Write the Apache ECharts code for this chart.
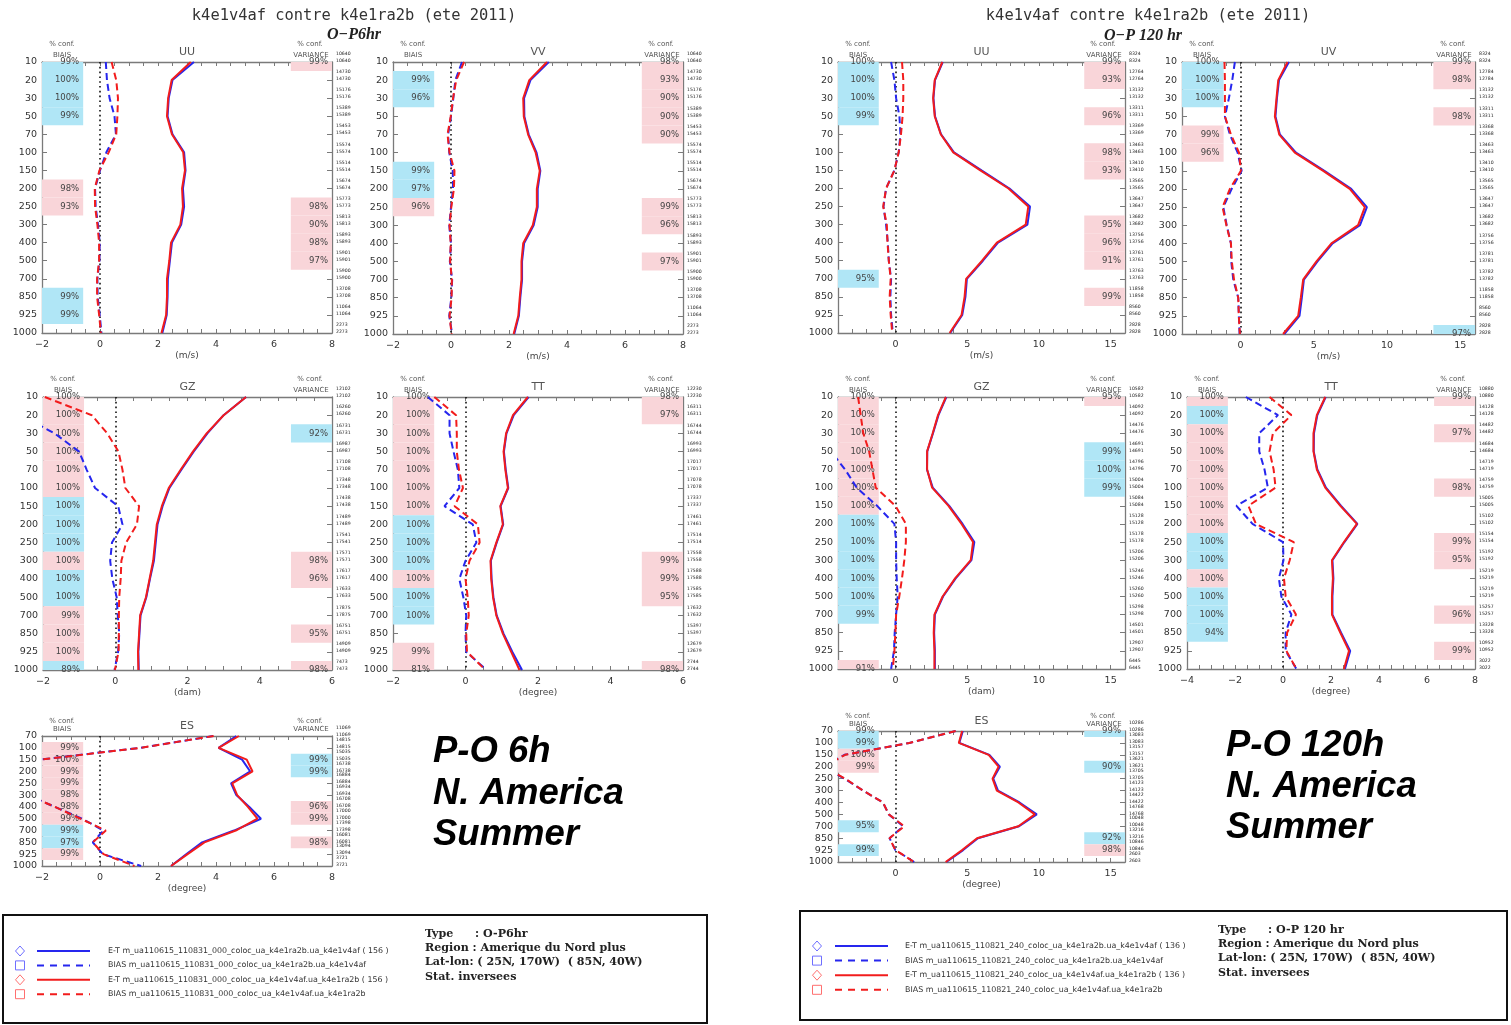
<!DOCTYPE html>
<html><head><meta charset="utf-8">
<script src="https://cdn.jsdelivr.net/npm/echarts@6/dist/echarts.min.js"></script>
<style>html,body{margin:0;padding:0;background:#fff}#c{width:1511px;height:1025px}</style>
</head><body><div id="c"></div>
<script>
// ---------- pressure levels ----------
const LEVELS = [10,20,30,50,70,100,150,200,250,300,400,500,700,850,925,1000];
const LEVELS_ES = [70,100,150,200,250,300,400,500,700,850,925,1000];

// ---------- P-O 6h ----------
const uu6_etB  = [3.24,2.50,2.37,2.33,2.50,2.90,2.95,2.86,2.90,2.80,2.48,2.41,2.34,2.33,2.30,2.15];
const uu6_etR  = [3.13,2.47,2.35,2.31,2.48,2.87,2.93,2.83,2.86,2.77,2.45,2.39,2.31,2.31,2.28,2.12];
const uu6_biasB= [0.20,0.24,0.33,0.50,0.55,0.22,0.00,-0.17,-0.15,-0.07,-0.01,-0.02,-0.09,-0.08,-0.01,0.05];
const uu6_biasR= [0.40,0.56,0.62,0.60,0.56,0.30,-0.02,-0.18,-0.17,-0.09,-0.03,-0.03,-0.10,-0.10,-0.03,0.03];
const uu6_confBias = ['b99','b100','b100','b99','','','','p98','p93','','','','','b99','b99',''];
const uu6_confVar  = ['p99','','','','','','','','p98','p90','p98','p97','','','',''];
const uu6_n = [10640,14730,15176,15389,15453,15574,15514,15674,15773,15813,15893,15901,15900,13708,11064,2273];

const vv6_etB  = [3.37,2.74,2.52,2.53,2.68,2.95,3.08,2.99,2.99,2.85,2.52,2.45,2.45,2.39,2.34,2.18];
const vv6_etR  = [3.31,2.70,2.49,2.51,2.66,2.92,3.06,2.96,2.96,2.82,2.49,2.43,2.43,2.37,2.32,2.16];
const vv6_biasB= [0.38,0.15,0.08,0.00,-0.10,-0.06,0.06,0.07,0.00,-0.06,0.00,-0.04,0.04,0.01,-0.06,0.04];
const vv6_biasR= [0.45,0.18,0.07,-0.01,-0.12,-0.05,0.12,0.10,0.01,-0.05,-0.01,-0.03,0.03,0.02,-0.05,0.02];
const vv6_confBias = ['','b99','b96','','','','b99','b97','p96','','','','','','',''];
const vv6_confVar  = ['p98','p93','p90','p90','p90','','','','p99','p96','','p97','','','',''];
const vv6_n = [10640,14730,15176,15389,15453,15574,15514,15674,15773,15813,15893,15901,15900,13708,11064,2273];

const gz6_etB  = [3.62,3.00,2.55,2.17,1.83,1.50,1.31,1.17,1.12,1.07,0.96,0.86,0.70,0.67,0.64,0.65];
const gz6_etR  = [3.62,3.00,2.53,2.15,1.81,1.48,1.29,1.15,1.10,1.05,0.95,0.85,0.69,0.66,0.63,0.64];
const gz6_biasB= [-3.5,-2.6,-1.68,-1.00,-0.79,-0.56,0.08,0.20,-0.09,-0.14,-0.08,0.04,0.07,0.11,0.08,-0.02];
const gz6_biasR= [-1.95,-0.65,-0.22,0.09,0.20,0.28,0.66,0.60,0.30,0.17,0.15,0.11,0.10,0.10,0.09,-0.01];
const gz6_confBias = ['p100','p100','p100','p100','p100','p100','b100','b100','b100','p100','b100','b100','p99','p100','p100','b89'];
const gz6_confVar  = ['','','b92','','','','','','','p98','p96','','','p95','','p98'];
const gz6_n = [12102,16260,16731,16987,17108,17348,17438,17489,17541,17571,17617,17633,17875,16751,14909,7473];

const tt6_etB  = [1.74,1.33,1.13,1.06,1.11,1.18,0.97,1.04,0.86,0.70,0.72,0.77,0.86,1.05,1.29,1.56];
const tt6_etR  = [1.72,1.31,1.12,1.05,1.10,1.17,0.96,1.03,0.85,0.69,0.71,0.76,0.85,1.03,1.26,1.49];
const tt6_biasB= [-1.04,-0.44,-0.44,-0.33,-0.21,-0.17,-0.58,0.20,0.30,0.00,-0.17,-0.06,0.02,0.00,0.02,0.58];
const tt6_biasR= [-0.86,-0.26,-0.24,-0.24,-0.18,-0.07,-0.30,0.34,0.39,0.11,0.00,0.06,0.09,0.02,0.04,0.55];
const tt6_confBias = ['p100','p100','p100','p100','p100','p100','p100','b100','b100','b100','p100','b100','b100','','p99','p81'];
const tt6_confVar  = ['p98','p97','','','','','','','','p99','p99','p95','','','','p98'];
const tt6_n = [12230,16311,16744,16993,17017,17078,17337,17461,17514,17558,17588,17585,17632,15397,12679,2744];

const es6_etB  = [4.70,4.09,4.90,5.18,4.52,4.70,5.15,5.55,4.62,3.52,2.97,2.45];
const es6_etR  = [4.79,4.09,5.06,5.26,4.56,4.73,5.10,5.43,4.68,3.60,3.02,2.45];
const es6_biasB= [3.90,1.40,-2.10,-3.20,-3.50,-2.50,-1.55,-0.62,0.12,-0.25,0.10,1.42];
const es6_biasR= [3.92,1.40,-2.05,-3.20,-3.50,-2.50,-1.55,-0.67,0.20,-0.25,0.12,1.19];
const es6_confBias = ['','p99','p100','p99','p99','p98','p98','p99','b99','b97','p99',''];
const es6_confVar  = ['','','b99','b99','','','p96','p99','','p98','',''];
const es6_n = [11069,14815,15035,16738,16884,16934,16708,17000,17398,16081,13094,3721];

// ---------- P-O 120h ----------
const uu120_etB  = [3.30,2.76,2.65,2.76,3.18,4.08,6.00,7.95,9.38,9.20,7.15,6.10,4.98,4.88,4.66,3.82];
const uu120_etR  = [3.27,2.74,2.63,2.74,3.16,4.03,5.92,7.88,9.26,9.08,7.07,6.04,4.93,4.82,4.61,3.78];
const uu120_biasB= [-0.30,-0.07,0.05,0.28,0.35,0.23,-0.07,-0.65,-0.83,-0.65,-0.53,-0.46,-0.30,-0.35,-0.30,-0.18];
const uu120_biasR= [0.46,0.55,0.55,0.50,0.39,0.23,-0.07,-0.65,-0.85,-0.60,-0.55,-0.46,-0.33,-0.40,-0.33,-0.22];
const uu120_confBias = ['b100','b100','b100','b99','','','','','','','','','b95','','',''];
const uu120_confVar  = ['p99','p93','','p96','','p98','p93','','','p95','p96','p91','','p99','',''];
const uu120_n = [8324,12764,13132,13311,13369,13463,13410,13565,13647,13682,13756,13761,13763,11858,8560,2828];

const uv120_etB  = [3.30,2.62,2.48,2.38,2.68,3.78,5.72,7.55,8.62,8.15,6.28,5.25,4.32,4.18,4.02,2.98];
const uv120_etR  = [3.20,2.57,2.45,2.34,2.64,3.70,5.64,7.45,8.48,8.02,6.20,5.18,4.27,4.11,3.93,2.90];
const uv120_biasB= [-0.39,-0.57,-0.80,-1.07,-0.73,-0.20,0.07,-0.61,-1.18,-0.95,-0.66,-0.64,-0.50,-0.16,-0.12,-0.07];
const uv120_biasR= [-1.10,-1.07,-1.07,-1.07,-0.66,-0.11,0.02,-0.73,-1.23,-0.97,-0.66,-0.60,-0.45,-0.16,-0.12,-0.05];
const uv120_confBias = ['b100','b100','b100','','p99','p96','','','','','','','','','',''];
const uv120_confVar  = ['p99','p98','','p98','','','','','','','','','','','','b97'];
const uv120_n = [8324,12784,13132,13311,13368,13463,13410,13565,13647,13682,13756,13781,13782,11858,8560,2828];

const gz120_etB  = [3.55,3.00,2.62,2.22,2.20,2.60,3.75,4.68,5.50,5.30,4.20,3.32,2.75,2.70,2.75,2.75];
const gz120_etR  = [3.52,2.97,2.60,2.21,2.21,2.56,3.70,4.61,5.41,5.25,4.16,3.29,2.72,2.67,2.72,2.72];
const gz120_biasB= [-6.5,-5.8,-5.2,-4.5,-3.5,-2.7,-1.28,-0.07,0.05,0.05,0.09,0.16,0.05,-0.05,-0.10,-0.30];
const gz120_biasR= [-2.60,-2.42,-2.24,-1.83,-1.60,-1.37,0.00,0.73,0.73,0.62,0.46,0.27,0.05,0.00,-0.07,-0.18];
const gz120_confBias = ['p100','p100','p100','p100','p100','p100','p100','b100','b100','b100','b100','b100','b99','','','p91'];
const gz120_confVar  = ['p95','','','b99','b100','b99','','','','','','','','','',''];
const gz120_n = [10582,14092,14476,14691,14796,15004,15084,15128,15178,15206,15246,15260,15298,14501,12907,6445];

const tt120_etB  = [1.78,1.43,1.29,1.28,1.43,1.79,2.42,3.10,2.56,2.06,2.10,2.06,2.06,2.42,2.80,2.58];
const tt120_etR  = [1.76,1.41,1.27,1.27,1.41,1.76,2.39,3.08,2.54,2.04,2.08,2.04,2.04,2.39,2.75,2.54];
const tt120_biasB= [-1.55,-0.21,-0.99,-0.99,-0.77,-0.63,-1.94,-1.27,0.00,0.02,-0.17,-0.07,0.35,0.11,0.11,0.56];
const tt120_biasR= [-0.56,0.35,-0.42,-0.56,-0.39,-0.31,-1.44,-1.13,0.45,0.28,0.04,0.11,0.54,0.17,0.14,0.56];
const tt120_confBias = ['p100','b100','p100','p100','p100','p100','p100','p100','b100','b100','p100','b100','b100','b94','',''];
const tt120_confVar  = ['p99','','p97','','','p98','','','p99','p95','','','p96','','p99',''];
const tt120_n = [10880,14128,14482,14684,14719,14759,15005,15102,15154,15192,15219,15219,15257,13328,10952,3022];

const es120_etB  = [4.70,4.45,6.55,7.28,6.82,7.15,8.65,9.85,8.62,5.75,4.72,3.55];
const es120_etR  = [4.65,4.42,6.50,7.19,6.77,7.07,8.57,9.72,8.57,5.69,4.65,3.50];
const es120_biasB= [4.20,0.97,-3.55,-5.00,-3.55,-2.26,-0.87,-0.46,0.55,-0.41,0.00,1.31];
const es120_biasR= [4.20,0.97,-3.50,-5.00,-3.50,-2.26,-0.87,-0.46,0.62,-0.41,0.00,1.31];
const es120_confBias = ['b99','b99','p100','p99','','','','','b95','','b99',''];
const es120_confVar  = ['b99','','','b90','','','','','','b92','p98',''];
const es120_n = [10286,13083,13157,13621,13705,14123,14422,14768,10048,13216,10846,2603];

// ---------- texts ----------
const MAIN_TITLE = 'k4e1v4af contre k4e1ra2b (ete 2011)';
const SUB_6 = 'O\u2212P6hr', SUB_120 = 'O\u2212P 120 hr';
const BIG_6 = ['P-O 6h','N. America','Summer'];
const BIG_120 = ['P-O 120h','N. America','Summer'];
const LEG_6 = ['E-T m_ua110615_110831_000_coloc_ua_k4e1ra2b.ua_k4e1v4af ( 156 )',
               'BIAS m_ua110615_110831_000_coloc_ua_k4e1ra2b.ua_k4e1v4af',
               'E-T m_ua110615_110831_000_coloc_ua_k4e1v4af.ua_k4e1ra2b ( 156 )',
               'BIAS m_ua110615_110831_000_coloc_ua_k4e1v4af.ua_k4e1ra2b'];
const LEG_120 = ['E-T m_ua110615_110821_240_coloc_ua_k4e1ra2b.ua_k4e1v4af ( 136 )',
                 'BIAS m_ua110615_110821_240_coloc_ua_k4e1ra2b.ua_k4e1v4af',
                 'E-T m_ua110615_110821_240_coloc_ua_k4e1v4af.ua_k4e1ra2b ( 136 )',
                 'BIAS m_ua110615_110821_240_coloc_ua_k4e1v4af.ua_k4e1ra2b'];
const INFO_6 = [['Type',': O-P6hr'],['Region : Amerique du Nord plus',''],['Lat-lon: ( 25N, 170W)  ( 85N, 40W)',''],['Stat. inversees','']];
const INFO_120 = [['Type',': O-P 120 hr'],['Region : Amerique du Nord plus',''],['Lat-lon: ( 25N, 170W)  ( 85N, 40W)',''],['Stat. inversees','']];

// ---------- styles ----------
const C_BLUE = '#2626ee', C_RED = '#f21c1c', BOX_B = '#b0e6f6', BOX_P = '#f9d5d9', FRAME = '#7a7a7a', TXT = '#333';
const SANS = '"DejaVu Sans", sans-serif';

const PANELS = [
 {name:'UU', unit:'(m/s)',   box:[42,62,290,271],  x:[-2,8], tick:0.5, lab:2, lv:LEVELS, etB:uu6_etB, etR:uu6_etR, bB:uu6_biasB, bR:uu6_biasR, cB:uu6_confBias, cV:uu6_confVar, n:uu6_n},
 {name:'VV', unit:'(m/s)',   box:[393,62,290,272], x:[-2,8], tick:0.5, lab:2, lv:LEVELS, etB:vv6_etB, etR:vv6_etR, bB:vv6_biasB, bR:vv6_biasR, cB:vv6_confBias, cV:vv6_confVar, n:vv6_n},
 {name:'GZ', unit:'(dam)',   box:[43,397,289,273], x:[-2,6], tick:0.5, lab:2, lv:LEVELS, etB:gz6_etB, etR:gz6_etR, bB:gz6_biasB, bR:gz6_biasR, cB:gz6_confBias, cV:gz6_confVar, n:gz6_n},
 {name:'TT', unit:'(degree)',box:[393,397,290,273],x:[-2,6], tick:0.5, lab:2, lv:LEVELS, etB:tt6_etB, etR:tt6_etR, bB:tt6_biasB, bR:tt6_biasR, cB:tt6_confBias, cV:tt6_confVar, n:tt6_n},
 {name:'ES', unit:'(degree)',box:[42,736,290,130], x:[-2,8], tick:0.5, lab:2, lv:LEVELS_ES, es:true, etB:es6_etB, etR:es6_etR, bB:es6_biasB, bR:es6_biasR, cB:es6_confBias, cV:es6_confVar, n:es6_n},
 {name:'UU', unit:'(m/s)',   box:[838,62,287,271], x:[-4,16], tick:1, lab:5, lv:LEVELS, etB:uu120_etB, etR:uu120_etR, bB:uu120_biasB, bR:uu120_biasR, cB:uu120_confBias, cV:uu120_confVar, n:uu120_n},
 {name:'UV', unit:'(m/s)',   box:[1182,62,293,272],x:[-4,16], tick:1, lab:5, lv:LEVELS, etB:uv120_etB, etR:uv120_etR, bB:uv120_biasB, bR:uv120_biasR, cB:uv120_confBias, cV:uv120_confVar, n:uv120_n},
 {name:'GZ', unit:'(dam)',   box:[838,397,287,272],x:[-4,16], tick:1, lab:5, lv:LEVELS, etB:gz120_etB, etR:gz120_etR, bB:gz120_biasB, bR:gz120_biasR, cB:gz120_confBias, cV:gz120_confVar, n:gz120_n},
 {name:'TT', unit:'(degree)',box:[1187,397,288,272],x:[-4,8], tick:0.5, lab:2, lv:LEVELS, etB:tt120_etB, etR:tt120_etR, bB:tt120_biasB, bR:tt120_biasR, cB:tt120_confBias, cV:tt120_confVar, n:tt120_n},
 {name:'ES', unit:'(degree)',box:[838,731,287,131],x:[-4,16], tick:1, lab:5, lv:LEVELS_ES, es:true, etB:es120_etB, etR:es120_etR, bB:es120_biasB, bR:es120_biasR, cB:es120_confBias, cV:es120_confVar, n:es120_n}
];

function fmtNum(v){ const r = Math.round(v*1000)/1000; return r < 0 ? '\u2212' + Math.abs(r) : String(r); }

const grids = [], xAxes = [], yAxes = [], series = [], graphics = [];

function txt(x, y, text, font, opts) {
  opts = opts || {};
  const align = opts.align || 'center', va = opts.va || 'middle';
  graphics.push({type:'text', x:x, y:y, silent:true, z:100,
    style:{text:text, font:font, fill:opts.fill || TXT, align:align, verticalAlign:va, textAlign:align, textVerticalAlign:va}});
}

PANELS.forEach((p, gi) => {
  const [L, T, W, H] = p.box;
  const nLev = p.lv.length;
  grids.push({left:L, top:T, width:W, height:H, containLabel:false, show:false});
  const axLine = {show:true, onZero:false, lineStyle:{color:FRAME, width:1.3}};
  const xc = {type:'value', gridIndex:gi, min:p.x[0], max:p.x[1], interval:p.tick,
    splitLine:{show:false}, axisLine:axLine, axisTick:{show:true, inside:true, length:4, lineStyle:{color:FRAME, width:1}}};
  xAxes.push(Object.assign({}, xc, {position:'bottom', axisLabel:{show:true, margin:7, fontSize:9.5, color:TXT, fontFamily:SANS,
    formatter: v => { const q = v / p.lab; return Math.abs(q - Math.round(q)) < 1e-6 ? fmtNum(v) : ''; }}}));
  xAxes.push(Object.assign({}, xc, {position:'top', axisLabel:{show:false}}));
  const yc = {type:'value', gridIndex:gi, min:0, max:nLev-1, interval:1, inverse:true,
    splitLine:{show:false}, axisLine:axLine, axisTick:{show:true, inside:true, length:5, lineStyle:{color:FRAME, width:1}}};
  yAxes.push(Object.assign({}, yc, {position:'left', axisLabel:{show:true, margin:5, fontSize:9.5, color:TXT, fontFamily:SANS,
    formatter: v => { const k = Math.round(v); return p.lv[k] !== undefined ? String(p.lv[k]) : ''; }}}));
  yAxes.push(Object.assign({}, yc, {position:'right', axisLabel:{show:false}}));

  const xi = 2*gi, yi = 2*gi;
  // confidence boxes
  [['L', p.cB], ['R', p.cV]].forEach(([side, conf]) => {
    const items = [], cols = [];
    conf.forEach((c, i) => { if (c) { items.push([p.x[0], i, +c.slice(1)]); cols.push(c[0]); } });
    series.push({type:'custom', xAxisIndex:xi, yAxisIndex:yi, data:items, z:1, silent:true, clip:false,
      renderItem(params, api) {
        const cs = params.coordSys;
        const i = api.value(1);
        const a = api.coord([p.x[0], i-0.5])[1], b = api.coord([p.x[0], i+0.5])[1];
        const y0 = Math.max(cs.y, Math.min(a,b)), y1 = Math.min(cs.y+cs.height, Math.max(a,b));
        const yc2 = api.coord([p.x[0], i])[1];
        const w = cs.width*0.142;
        const x0 = side === 'L' ? cs.x : cs.x + cs.width - w;
        return {type:'group', children:[
          {type:'rect', shape:{x:x0, y:y0, width:w, height:y1-y0}, style:{fill: cols[params.dataIndex]==='b' ? BOX_B : BOX_P}},
          {type:'text', style:{text: api.value(2)+'%', x:x0+w-4, y:yc2, align:'right', verticalAlign:'middle', textAlign:'right', textVerticalAlign:'middle', font:'8.5px ' + SANS, fill:'#444'}}
        ]};
      }});
  });
  // sample counts at right
  series.push({type:'custom', xAxisIndex:xi, yAxisIndex:yi, data:p.n.map((v,i)=>[p.x[1], i, v]), z:1, silent:true, clip:false,
    renderItem(params, api) {
      const cs = params.coordSys;
      const yy = api.coord([p.x[1], api.value(1)])[1];
      const xx = cs.x + cs.width + 4;
      const s = String(api.value(2));
      const st = {align:'left', verticalAlign:'middle', textAlign:'left', textVerticalAlign:'middle', font:'4.6px ' + SANS, fill:'#222'};
      return {type:'group', children:[
        {type:'text', style:Object.assign({text:s, x:xx, y:yy-8}, st)},
        {type:'text', style:Object.assign({text:s, x:xx, y:yy-1}, st)}
      ]};
    }});
  const mk = (data, color, dashed, withZero) => {
    const s = {type:'line', xAxisIndex:xi, yAxisIndex:yi, data:data.map((v,i)=>[v,i]), showSymbol:false, symbol:'none',
      clip:true, z:3, silent:true, lineStyle:{color:color, width:2, type: dashed ? [7,4] : 'solid'}};
    if (withZero) s.markLine = {silent:true, symbol:'none', label:{show:false}, z:2,
      lineStyle:{type:[1.6,3.2], color:'#111', width:1.6}, data:[{xAxis:0}]};
    return s;
  };
  series.push(mk(p.etB, C_BLUE, false, true));
  series.push(mk(p.bB, C_BLUE, true, false));
  series.push(mk(p.etR, C_RED, false, false));
  series.push(mk(p.bR, C_RED, true, false));

  // panel texts
  const cx = L + W/2, R = L + W, B = T + H;
  const up = p.es ? 15 : 18;
  txt(cx, T-10, p.name, '11px ' + SANS, {fill:'#555'});
  txt(L+20, T-up, '% conf.', '7px ' + SANS, {fill:'#555'});
  txt(L+20, T-7, 'BIAIS', '7px ' + SANS, {fill:'#555'});
  txt(R-22, T-up, '% conf.', '7px ' + SANS, {fill:'#555'});
  txt(R-21, T-7, 'VARIANCE', '7px ' + SANS, {fill:'#555'});
  txt(cx, B+23, p.unit, '9px ' + SANS, {fill:'#444'});
});

// main titles
txt(354, 16, MAIN_TITLE, '15.4px "DejaVu Sans Mono", monospace', {fill:'#333'});
txt(354, 35, SUB_6, 'italic bold 16px "Liberation Serif", serif', {fill:'#222'});
txt(1148, 16, MAIN_TITLE, '15.4px "DejaVu Sans Mono", monospace', {fill:'#333'});
txt(1143, 36, SUB_120, 'italic bold 16px "Liberation Serif", serif', {fill:'#222'});

// big labels
BIG_6.forEach((t,i) => txt(433, 752 + i*41.5, t, 'italic bold 36.5px "Liberation Sans", Arial, sans-serif', {align:'left', fill:'#000'}));
BIG_120.forEach((t,i) => txt(1226, 746 + i*41, t, 'italic bold 36.5px "Liberation Sans", Arial, sans-serif', {align:'left', fill:'#000'}));

// legend boxes
function legendBox(bx, by, bw, bh, symX, lineX0, lineX1, textX, rowY, rowDy, infoX, infoY, legTexts, info) {
  graphics.push({type:'rect', shape:{x:bx, y:by, width:bw, height:bh}, style:{fill:'#fff', stroke:'#111', lineWidth:2}, z:50, silent:true});
  const cols = [C_BLUE, C_BLUE, C_RED, C_RED];
  const symCols = ['#6f6fff','#6f6fff','#ff6f6f','#ff6f6f'];
  legTexts.forEach((t, i) => {
    const y = rowY + i*rowDy;
    if (i % 2 === 0) {
      graphics.push({type:'polygon', shape:{points:[[symX, y-5],[symX+4.5, y],[symX, y+5],[symX-4.5, y]]}, style:{fill:'none', stroke:symCols[i], lineWidth:1}, z:60, silent:true});
      graphics.push({type:'line', shape:{x1:lineX0, y1:y, x2:lineX1, y2:y}, style:{stroke:cols[i], lineWidth:2}, z:60, silent:true});
    } else {
      graphics.push({type:'rect', shape:{x:symX-4.5, y:y-4.5, width:9, height:9}, style:{fill:'none', stroke:symCols[i], lineWidth:1}, z:60, silent:true});
      graphics.push({type:'line', shape:{x1:lineX0, y1:y, x2:lineX1, y2:y}, style:{stroke:cols[i], lineWidth:2, lineDash:[7,6]}, z:60, silent:true});
    }
    txt(textX, y, t, '7.9px ' + SANS, {align:'left', fill:'#333'});
  });
  info.forEach((pair, i) => {
    const y = infoY + i*14.3;
    txt(infoX, y, pair[0], 'bold 11.1px "DejaVu Serif", serif', {align:'left', fill:'#222'});
    if (pair[1]) txt(infoX + 50, y, pair[1], 'bold 11.1px "DejaVu Serif", serif', {align:'left', fill:'#222'});
  });
}
legendBox(3, 915, 704, 108, 20, 37, 90, 108, 951, 14.4, 425, 934, LEG_6, INFO_6);
legendBox(800, 911, 707, 109, 817, 835, 888, 905, 946, 14.6, 1218, 930, LEG_120, INFO_120);

const chart = echarts.init(document.getElementById('c'), null, {renderer:'canvas', width:1511, height:1025});
chart.setOption({
  animation:false,
  backgroundColor:'#fff',
  grid:grids, xAxis:xAxes, yAxis:yAxes, series:series,
  graphic:{elements:graphics}
});
</script></body></html>
